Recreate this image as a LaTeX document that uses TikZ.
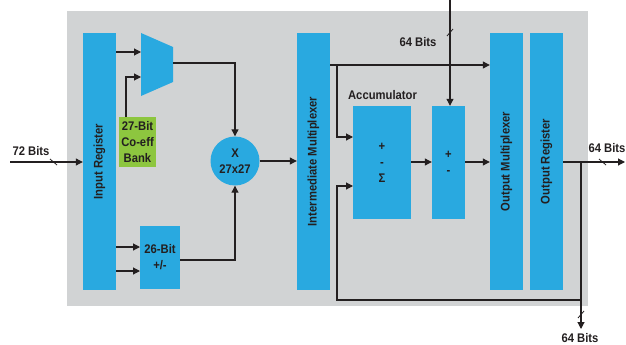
\documentclass[tikz,border=0pt]{standalone}
\usepackage{fontspec}
\usepackage{graphicx}
\setmainfont{Liberation Sans}[FakeStretch=0.9]
\usetikzlibrary{arrows.meta,calc}
\definecolor{bgG}{HTML}{D1D3D4}
\definecolor{blu}{HTML}{29A9E0}
\definecolor{grn}{HTML}{8DC63F}
\definecolor{ink}{HTML}{231F20}
\begin{document}
\begin{tikzpicture}[x=1pt,y=-1pt,
  txt/.style={font=\fontsize{12.5}{16}\selectfont\bfseries, text=ink},
  blk/.style={txt, fill=blu, draw=none, inner sep=0pt, align=center},
  wire/.style={draw=ink, line width=1.1pt},
  arr/.style={wire, -{Triangle[length=7pt,width=7pt]}},
  lbl/.style={txt, inner sep=0pt},
  tick/.style={draw=ink, line width=0.8pt}]
\useasboundingbox (0,0) rectangle (626,345);
\fill[bgG] (67,11) rectangle (588,306);

% blocks
\node[blk, minimum width=33pt, minimum height=257pt] (inreg) at (99.5,161.5) {\rotatebox{90}{Input Register}};
\node[blk, minimum width=33pt, minimum height=257pt] (imux) at (313.5,161.5) {\rotatebox{90}{Intermediate Multiplexer}};
\node[blk, minimum width=33pt, minimum height=257pt] (omux) at (506.5,161.5) {\rotatebox{90}{Output Multiplexer}};
\node[blk, minimum width=33pt, minimum height=257pt] (oreg) at (546.5,161.5) {\rotatebox{90}{Output Register}};
\node[blk, fill=grn, minimum width=37pt, minimum height=50pt] (coef) at (137.5,142) {27-Bit\\Co-eff\\Bank};
\node[blk, minimum width=40pt, minimum height=63pt] (add26) at (160,257.5) {26-Bit\\+/-};
\node[blk, circle, minimum size=49pt] (mult) at (235,161) {X\\27x27};
\node[blk, minimum width=58pt, minimum height=113pt] (acc) at (382,162.5) {+\\-\\Σ};
\node[blk, minimum width=33pt, minimum height=113pt] (add2) at (448.5,162.5) {+\\-};
\fill[blu] (141,33) -- (173,47) -- (173,82) -- (141,96) -- cycle;

% labels
\node[lbl] (l72) at (31,151) {72 Bits};
\node[lbl] (ltop) at (418,42) {64 Bits};
\node[lbl] (lout) at (607,148) {64 Bits};
\node[lbl] (lbot) at (580,338) {64 Bits};
\node[lbl] (lacc) at (382.5,95) {Accumulator};

% coordinates
\coordinate (in72) at (10,162);
\coordinate (muxin1) at (141,52);
\coordinate (muxin2) at (141,77);
\coordinate (muxout) at (173,63);
\coordinate (cfout) at (126,117);
\coordinate (a1) at (140,247);
\coordinate (a2) at (140,271);
\coordinate (a3) at (180,260);
\coordinate (im1) at (330,65);
\coordinate (br1) at (337,65);
\coordinate (accin1) at (353,137);
\coordinate (accin2) at (353,186);
\coordinate (accout) at (411,162);
\coordinate (add2out) at (465,162);
\coordinate (top64) at (450,0);
\coordinate (out64) at (625,162);
\coordinate (br2) at (581,162);
\coordinate (bot64) at (581,329);
\coordinate (fb) at (581,300);

% connectors
\draw[arr] (in72) -- (in72 -| inreg.west);
\draw[arr] (muxin1 -| inreg.east) -- (muxin1);
\draw[arr] (cfout) |- (muxin2);
\draw[arr] (muxout) -| (mult.north);
\draw[arr] (a1 -| inreg.east) -- (a1);
\draw[arr] (a2 -| inreg.east) -- (a2);
\draw[arr] (a3) -| (mult.south);
\draw[arr] (mult.east) -- (mult.east -| imux.west);
\draw[arr] (im1) -- (im1 -| omux.west);
\draw[arr] (br1) |- (accin1);
\draw[arr] (accout) -- (accout -| add2.west);
\draw[arr] (add2out) -- (add2out -| omux.west);
\draw[arr] (top64) -- (top64 |- add2.north);
\draw[arr] (out64 -| oreg.east) -- (out64);
\draw[arr] (br2) -- (bot64);
\draw[arr] (fb) -- (fb -| br1) |- (accin2);

% bus ticks
\draw[tick] (50,159) -- (57,165);
\draw[tick] (447,36) -- (453,29);
\draw[tick] (599,159) -- (606,165);
\draw[tick] (578,318) -- (584,311);
\end{tikzpicture}
\end{document}
